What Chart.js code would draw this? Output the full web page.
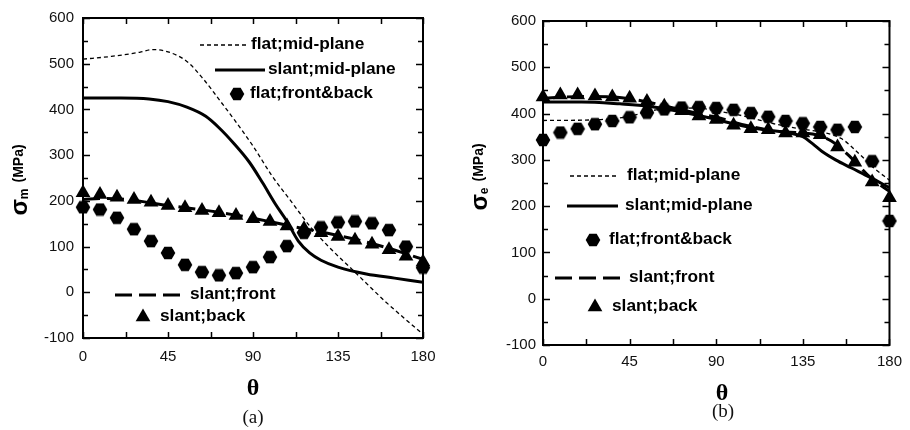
<!DOCTYPE html>
<html>
<head>
<meta charset="utf-8">
<script src="https://cdn.jsdelivr.net/npm/chart.js@4.4.1/dist/chart.umd.min.js"></script>
<style>
  body { margin: 0; background: #fff; width: 910px; height: 430px; position: relative; overflow: hidden; }
  canvas { position: absolute; top: 0; }
  #chartA { left: 0; }
  #chartB { left: 455px; }
  .cap { position: absolute; font-family: 'Liberation Serif', serif; font-size: 19px; color: #111; transform: translate(-50%, -50%); }
</style>
</head>
<body>
<canvas id="chartA" width="455" height="430"></canvas>
<canvas id="chartB" width="455" height="430"></canvas>
<div class="cap" style="left:253px; top:417px;">(a)</div>
<div class="cap" style="left:723px; top:411px;">(b)</div>
<script>
// angles where the markers sit
const thetaMarks = [0, 9, 18, 27, 36, 45, 54, 63, 72, 81, 90, 99, 108, 117, 126, 135, 144, 153, 162, 171, 180];

// (a) sigma_m
const aFlatMidTheta = [0, 15, 30, 37, 45, 55, 64, 72, 80, 90, 100, 110, 120, 130, 144, 160, 180];
const aFlatMid      = [510, 516, 525, 531, 526, 505, 465, 422, 378, 320, 255, 200, 145, 100, 44, -20, -92];
const aSlantMidTheta = [0, 20, 35, 45, 55, 65, 72, 80, 88, 95, 102, 108, 114, 120, 126, 135, 150, 165, 180];
const aSlantMid      = [425, 425, 423, 417, 405, 385, 360, 325, 285, 240, 192, 155, 112, 86, 70, 55, 40, 31, 22];
const aFlatFB   = [186, 181, 163, 138, 112, 86, 60, 44, 37, 42, 55, 77, 101, 130, 142, 153, 155, 151, 136, 100, 54];
const aSlantFrontTheta = [0, 10, 20, 45, 72, 90, 110, 126, 144, 162, 180];
const aSlantFront      = [203, 205, 204, 190, 175, 162, 145, 132, 116, 96, 72];
const aSlantBack = [218, 214, 208, 203, 197, 190, 185, 179, 174, 168, 161, 155, 145, 139, 130, 122, 114, 105, 93, 79, 66];

// (b) sigma_e
const bFlatMidTheta = [0, 30, 45, 55, 65, 80, 90, 105, 120, 135, 145, 155, 165, 172, 180];
const bFlatMid      = [385, 387, 394, 405, 411, 412, 406, 394, 378, 366, 360, 346, 310, 282, 256];
const bSlantMidTheta = [0, 20, 40, 55, 70, 85, 100, 115, 128, 135, 140, 145, 152, 160, 170, 180];
const bSlantMid      = [425, 425, 421, 416, 405, 392, 377, 365, 358, 350, 335, 318, 300, 283, 262, 240];
const bFlatFB   = [343, 359, 367, 377, 384, 392, 402, 409, 413, 414, 412, 408, 401, 393, 384, 379, 371, 365, 371, 297, 168];
const bSlantFrontTheta = [0, 20, 36, 45, 60, 72, 90, 108, 126, 140, 150, 160, 170, 180];
const bSlantFront      = [433, 437, 436, 432, 420, 408, 392, 372, 360, 356, 340, 305, 262, 232];
const bSlantBack = [436, 440, 440, 438, 436, 433, 426, 416, 406, 395, 387, 375, 367, 365, 358, 358, 354, 328, 295, 252, 218];

const xTicks = { min: 0, max: 180, step: 45 };
const yTicks = { min: -100, max: 600, step: 100 };

const seriesNames = ['flat;mid-plane', 'slant;mid-plane', 'flat;front&back', 'slant;front', 'slant;back'];

function pts(xs, ys) { return xs.map((x, i) => ({ x: x, y: ys[i] })); }

function drawHex(g, cx, cy, r) {
    g.beginPath();
    for (let i = 0; i < 6; i++) {
        const a = Math.PI / 3 * i;
        g.lineTo(cx + r * Math.cos(a), cy + r * Math.sin(a));
    }
    g.closePath();
    g.fillStyle = '#000';
    g.fill();
}

function drawTri(g, cx, cy, r) {
    g.beginPath();
    for (let i = 0; i < 3; i++) {
        const a = i * 2 * Math.PI / 3;
        g.lineTo(cx + Math.sin(a) * r, cy - Math.cos(a) * r);
    }
    g.closePath();
    g.fillStyle = '#000';
    g.fill();
}

const hexImg = (function() {
    const c = document.createElement('canvas');
    c.width = 16; c.height = 14;
    drawHex(c.getContext('2d'), 8, 7, 7.3);
    return c;
})();

// frame + inward ticks on all four sides
const frameTicks = {
    id: 'frameTicks',
    beforeDatasetsDraw(chart) {
        const ctx = chart.ctx, a = chart.chartArea;
        const xs = chart.scales.x, ys = chart.scales.y;
        ctx.save();
        ctx.strokeStyle = '#000';
        ctx.lineWidth = 2;
        ctx.strokeRect(a.left, a.top, a.right - a.left, a.bottom - a.top);
        ctx.lineWidth = 1.5;
        ctx.beginPath();
        for (let v = xs.min; v <= xs.max + 1e-6; v += xTicks.step / 2) {
            const px = Math.round(xs.getPixelForValue(v)) + 0.5;
            ctx.moveTo(px, a.bottom); ctx.lineTo(px, a.bottom - 6);
            ctx.moveTo(px, a.top); ctx.lineTo(px, a.top + 6);
        }
        for (let v = ys.min; v <= ys.max + 1e-6; v += yTicks.step / 2) {
            const py = Math.round(ys.getPixelForValue(v)) + 0.5;
            const len = (v % yTicks.step === 0) ? 7 : 5;
            ctx.moveTo(a.left, py); ctx.lineTo(a.left + len, py);
            ctx.moveTo(a.right, py); ctx.lineTo(a.right - len, py);
        }
        ctx.stroke();
        ctx.restore();
    }
};

function decoPlugin(deco) {
    return {
        id: 'deco',
        afterDraw(chart) {
            const ctx = chart.ctx;
            const ds = chart.data.datasets;
            ctx.save();
            ctx.fillStyle = '#000';

            // theta
            ctx.font = 'bold 24px "Liberation Serif"';
            ctx.textAlign = 'center';
            ctx.textBaseline = 'middle';
            ctx.fillText('θ', deco.theta.x, deco.theta.y);

            // y title, rotated
            const t = deco.yTitle;
            ctx.translate(t.x, t.y);
            ctx.rotate(-Math.PI / 2);
            ctx.textAlign = 'left';
            ctx.textBaseline = 'alphabetic';
            const fSig = 'bold 24px "Liberation Sans"', fSub = 'bold 12px "Liberation Sans"', fUnit = 'bold 14px "Liberation Sans"';
            ctx.font = fSig; const wSig = ctx.measureText('σ').width;
            ctx.font = fSub; const wSub = ctx.measureText(t.sub).width;
            ctx.font = fUnit; const wUnit = ctx.measureText('(MPa)').width;
            let x0 = -(wSig + wSub + 6 + wUnit) / 2;
            ctx.font = fSig; ctx.fillText('σ', x0, 0); x0 += wSig;
            ctx.font = fSub; ctx.fillText(t.sub, x0, 1); x0 += wSub + 6;
            ctx.font = fUnit; ctx.fillText('(MPa)', x0, -4);
            ctx.setTransform(1, 0, 0, 1, 0, 0);

            // legend entries
            ctx.font = 'bold 16px "Liberation Sans"';
            ctx.textAlign = 'left';
            ctx.textBaseline = 'middle';
            deco.legend.forEach(e => {
                const d = ds[e.i];
                if (e.x2 !== undefined) {
                    ctx.save();
                    ctx.strokeStyle = '#000';
                    ctx.lineWidth = d.borderWidth;
                    ctx.setLineDash(d.borderDash || []);
                    ctx.beginPath();
                    ctx.moveTo(e.x1, e.y); ctx.lineTo(e.x2, e.y);
                    ctx.stroke();
                    ctx.restore();
                } else if (d.pointStyle === 'triangle') {
                    drawTri(ctx, e.x1, e.y, 8.5);
                } else {
                    drawHex(ctx, e.x1, e.y, 7.3);
                }
                // the original lettering is slightly wide
                ctx.save();
                ctx.translate(e.tx, e.y);
                ctx.scale(1.08, 1);
                ctx.fillStyle = '#000';
                ctx.fillText(seriesNames[e.i], 0, 0);
                ctx.restore();
            });
            ctx.restore();
        }
    };
}

function buildChart(id, d, deco) {
    const tickFont = { family: 'Liberation Sans', size: 15 };
    return new Chart(document.getElementById(id), {
        type: 'line',
        data: {
            datasets: [
                { data: pts(d.flatMidTheta, d.flatMid), borderColor: '#000', borderWidth: 1.3, borderDash: [4, 3],
                  pointRadius: 0, cubicInterpolationMode: 'monotone', fill: false },
                { data: pts(d.slantMidTheta, d.slantMid), borderColor: '#000', borderWidth: 3,
                  pointRadius: 0, cubicInterpolationMode: 'monotone', fill: false },
                { data: pts(thetaMarks, d.flatFB), showLine: false, pointStyle: hexImg, pointRadius: 7,
                  backgroundColor: '#000', borderColor: '#000', clip: false },
                { data: pts(d.slantFrontTheta, d.slantFront), borderColor: '#000', borderWidth: 3, borderDash: [17, 7],
                  pointRadius: 0, cubicInterpolationMode: 'monotone', fill: false },
                { data: pts(thetaMarks, d.slantBack), showLine: false, pointStyle: 'triangle', pointRadius: 8.5,
                  backgroundColor: '#000', borderColor: '#000', borderWidth: 0, clip: false }
            ]
        },
        options: {
            responsive: false,
            animation: false,
            layout: { padding: deco.padding },
            plugins: { legend: { display: false }, tooltip: { enabled: false } },
            scales: {
                x: {
                    type: 'linear', min: xTicks.min, max: xTicks.max,
                    grid: { display: false, drawTicks: false }, border: { display: false },
                    ticks: { stepSize: xTicks.step, padding: deco.xPad, font: tickFont, color: '#111' },
                    afterFit: s => { s.height = deco.xHeight; }
                },
                y: {
                    min: yTicks.min, max: yTicks.max,
                    grid: { display: false, drawTicks: false }, border: { display: false },
                    ticks: { stepSize: yTicks.step, padding: deco.yPad, font: tickFont, color: '#111' },
                    afterFit: s => { s.width = deco.yWidth; }
                }
            }
        },
        plugins: [frameTicks, decoPlugin(deco)]
    });
}

buildChart('chartA', {
    flatMidTheta: aFlatMidTheta, flatMid: aFlatMid,
    slantMidTheta: aSlantMidTheta, slantMid: aSlantMid,
    flatFB: aFlatFB,
    slantFrontTheta: aSlantFrontTheta, slantFront: aSlantFront,
    slantBack: aSlantBack
}, {
    padding: { top: 17, right: 32, bottom: 0, left: 0 },
    xHeight: 92, yWidth: 83, xPad: 10, yPad: 9,
    theta: { x: 253, y: 389 },
    yTitle: { x: 27, y: 180, sub: 'm' },
    legend: [
        { i: 0, x1: 200, x2: 248, y: 45, tx: 251 },
        { i: 1, x1: 215, x2: 265, y: 70, tx: 268 },
        { i: 2, x1: 237, y: 94, tx: 250 },
        { i: 3, x1: 115, x2: 187, y: 295, tx: 190 },
        { i: 4, x1: 143, y: 317, tx: 160 }
    ]
});

buildChart('chartB', {
    flatMidTheta: bFlatMidTheta, flatMid: bFlatMid,
    slantMidTheta: bSlantMidTheta, slantMid: bSlantMid,
    flatFB: bFlatFB,
    slantFrontTheta: bSlantFrontTheta, slantFront: bSlantFront,
    slantBack: bSlantBack
}, {
    padding: { top: 21, right: 13, bottom: 0, left: 0 },
    xHeight: 85, yWidth: 88, xPad: 8, yPad: 7,
    theta: { x: 267, y: 394 },
    yTitle: { x: 32, y: 177, sub: 'e' },
    legend: [
        { i: 0, x1: 115, x2: 163, y: 176, tx: 172 },
        { i: 1, x1: 112, x2: 163, y: 206, tx: 170 },
        { i: 2, x1: 138, y: 240, tx: 154 },
        { i: 3, x1: 100, x2: 168, y: 278, tx: 174 },
        { i: 4, x1: 140, y: 307, tx: 157 }
    ]
});
</script>
</body>
</html>
